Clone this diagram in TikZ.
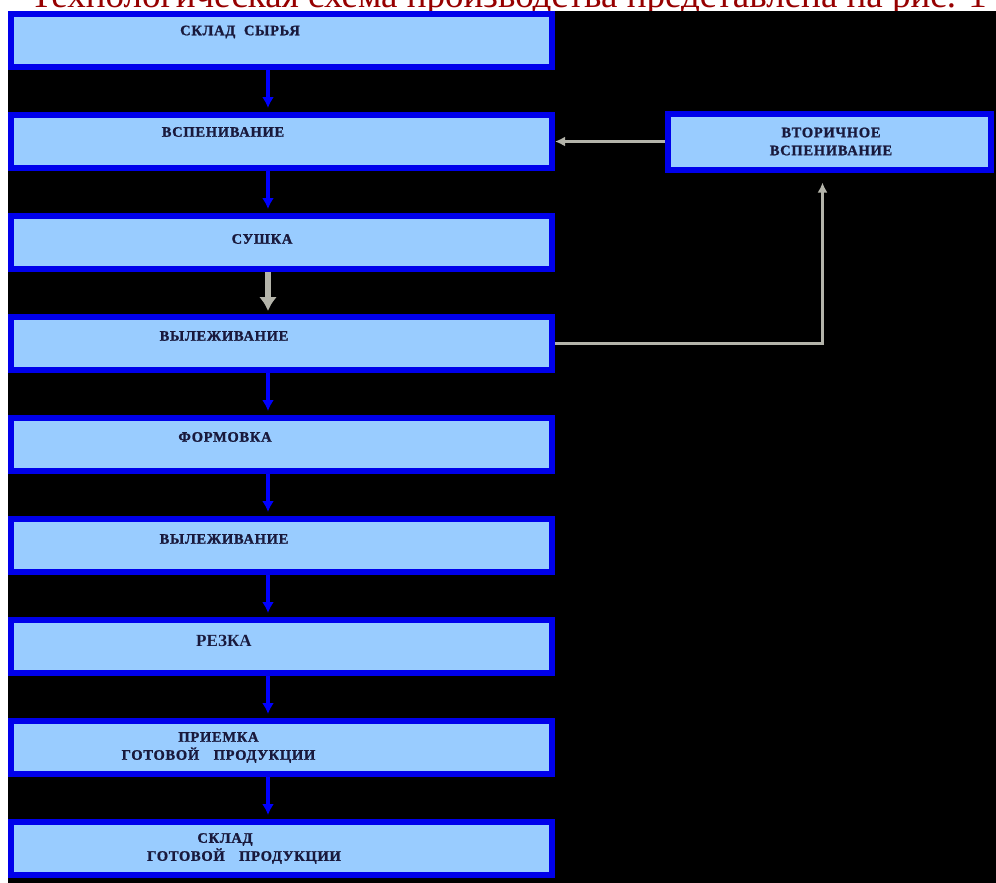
\documentclass[tikz,border=0pt]{standalone}
\usepackage{fontspec}
\setmainfont{Liberation Serif}
\usetikzlibrary{arrows.meta,positioning}
\definecolor{boxfill}{RGB}{153,204,255}
\definecolor{boxline}{RGB}{0,0,235}
\definecolor{txtnavy}{RGB}{25,25,60}
\definecolor{grayarr}{RGB}{180,180,170}
\definecolor{titlered}{RGB}{150,0,0}
\tikzset{
  >=Latex,
  stage/.style ={draw=boxline, line width=6pt, fill=boxfill, minimum width=541pt, minimum height=53pt},
  side/.style  ={draw=boxline, line width=6pt, fill=boxfill, minimum width=323pt, minimum height=56pt},
  lbl/.style   ={font=\fontsize{14.5}{18}\selectfont\bfseries\addfontfeature{LetterSpace=5,FakeBold=1.2}, text=txtnavy, align=center, inner sep=0pt},
  big/.style   ={font=\fontsize{17}{20}\selectfont\bfseries, text=txtnavy, inner sep=0pt},
  barr/.style  ={-{Latex[length=11pt,width=12pt]}, line width=3.5pt, blue, shorten >=4pt},
  garr/.style  ={-{Latex[length=10pt,width=10pt]}, line width=2.5pt, grayarr},
  gbig/.style  ={-{Latex[length=14pt,width=18pt]}, line width=6pt, grayarr, shorten >=3pt},
}

\begin{document}
\begin{tikzpicture}[x=1pt,y=1pt,node distance=42pt]
  \useasboundingbox (0,0) rectangle (996,-883);
  % heading line, cut off by the black panel
  \begin{scope}
    \clip (0,0) rectangle (996,-11);
    \node[anchor=base west, inner sep=0pt, font=\fontsize{37}{40}\selectfont, text=titlered] (title) at (30,-8)
      {Технологическая схема производства представлена на рис. 1};
  \end{scope}
  \fill[black] (8,-11) rectangle (996,-883);

  \node[stage] (b1) at (281.5,-40.5) {};
  \node[stage, below=of b1] (b2) {};
  \node[stage, below=of b2] (b3) {};
  \node[stage, below=of b3] (b4) {};
  \node[stage, below=of b4] (b5) {};
  \node[stage, below=of b5] (b6) {};
  \node[stage, below=of b6] (b7) {};
  \node[stage, below=of b7] (b8) {};
  \node[stage, below=of b8] (b9) {};
  \node[side, right=110pt of b2] (rb) {};

  \node[lbl] (t1) at ([xshift=-41.5pt,yshift=8.5pt]b1.center) {СКЛАД\ \ СЫРЬЯ};
  \node[lbl] (t2) at ([xshift=-58.5pt,yshift=9.5pt]b2.center) {ВСПЕНИВАНИЕ};
  \node[lbl] (t3) at ([xshift=-19.5pt,yshift=3.5pt]b3.center) {СУШКА};
  \node[lbl] (t4) at ([xshift=-57.5pt,yshift=7.5pt]b4.center) {ВЫЛЕЖИВАНИЕ};
  \node[lbl] (t5) at ([xshift=-56.5pt,yshift=7.5pt]b5.center) {ФОРМОВКА};
  \node[lbl] (t6) at ([xshift=-57.5pt,yshift=6.5pt]b6.center) {ВЫЛЕЖИВАНИЕ};
  \node[big] (t7) at ([xshift=-57.5pt,yshift=5.5pt]b7.center) {РЕЗКА};
  \node[lbl] (t8) at ([xshift=-63pt]b8.center) {ПРИЕМКА\\ГОТОВОЙ\quad ПРОДУКЦИИ};
  \node[lbl] (t9) at ([xshift=-37.5pt]b9.center) {СКЛАД\hspace*{38pt}\\ГОТОВОЙ\quad ПРОДУКЦИИ};
  \node[lbl] (rt) at ([xshift=1.5pt]rb.center) {ВТОРИЧНОЕ\\ВСПЕНИВАНИЕ};

  \coordinate (ax) at (268,0);
  \foreach \a/\b in {b1/b2,b2/b3,b4/b5,b5/b6,b6/b7,b7/b8,b8/b9}
    \draw[barr] (\a.south -| ax) -- (\b.north -| ax);
  \draw[gbig] (b3.south -| ax) -- (b4.north -| ax);

  \draw[garr] (rb.west) -- (rb.west -| b2.east);
  \draw[garr, shorten >=10pt] (b4.east) -| ([xshift=-7pt]rb.south);
\end{tikzpicture}
\end{document}
